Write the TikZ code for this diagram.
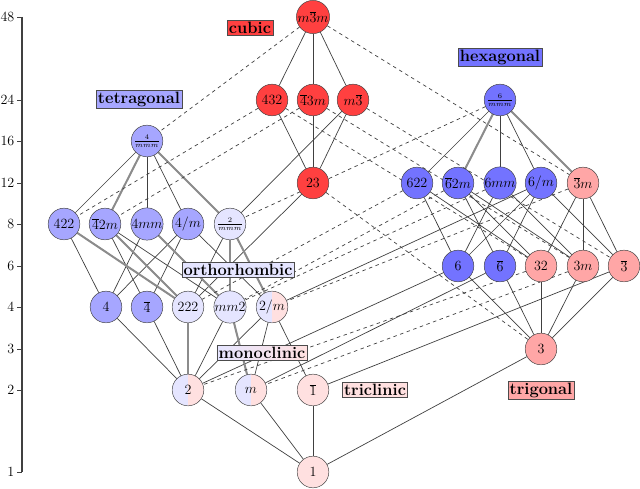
\documentclass[tikz,border=0pt]{standalone}
\usepackage{amsmath}
\usepackage{tikz}
\usepackage{xcolor}
\usetikzlibrary{backgrounds}
\begin{document}
\begin{tikzpicture}[x=0.03cm,y=-0.03cm]
     \tikzstyle{vertex}=[circle,draw=black!75,minimum size=27pt,inner sep=0pt,font=\fontsize{13}{15}\selectfont]
     \tikzstyle{cub}=[vertex,fill=red!75]
     \tikzstyle{tet}=[vertex,fill=blue!35]
     \tikzstyle{hex}=[vertex,fill=blue!55]
     \tikzstyle{ort}=[vertex,fill=blue!10]
     \tikzstyle{tri}=[vertex,fill=red!12]
     \tikzstyle{trg}=[vertex,fill=red!35]
     \tikzstyle{half}=[vertex,fill=blue!10,path picture={\fill[red!12] (path picture bounding box.north) rectangle (path picture bounding box.south east);}]
     \tikzstyle{sys}=[draw=black!70,font=\fontsize{14}{16}\selectfont\bfseries,inner sep=1.5pt]
     \tikzstyle{edge}=[draw,black!75,semithick]
     \tikzstyle{dsh}=[edge,dashed]
     \tikzstyle{dbl}=[draw,black!45,double=black!45,double distance=0.9pt,thin]
     \useasboundingbox (0,0) rectangle (640,489);

     % order axis
     \draw[black!75,line width=1.4pt] (22,17) -- (22,472);
     \foreach \n/\y in {48/17,24/100,16/141,12/183,8/224,6/266,4/307,3/349,2/390,1/472}
       \draw[black!75] (17,\y) -- (22,\y) node[left=3pt,black,font=\fontsize{12}{14}\selectfont] {\n};

     % cubic
     \node[cub] (m3m) at (313,17) {$m\overline{3}m$};
     \node[cub] (p432) at (272,100) {$432$};
     \node[cub] (b43m) at (313,100) {$\overline{4}3m$};
     \node[cub] (m3) at (353,100) {$m\overline{3}$};
     \node[cub] (p23) at (313,183) {$23$};
     % tetragonal
     \node[tet] (p4mmm) at (147,141) {\footnotesize$\frac{4}{mmm}$};
     \node[tet] (p422) at (64,224) {$422$};
     \node[tet] (b42m) at (105,224) {$\overline{4}2m$};
     \node[tet] (p4mm) at (147,224) {$4mm$};
     \node[tet] (p4m) at (188,224) {$4/m$};
     \node[tet] (p4) at (106,307) {$4$};
     \node[tet] (b4) at (147,307) {$\overline{4}$};
     % orthorhombic
     \node[ort] (pmmm) at (230,224) {\footnotesize$\frac{2}{mmm}$};
     \node[ort] (p222) at (188,307) {$222$};
     \node[ort] (mm2) at (230,307) {$mm2$};
     % monoclinic
     \node[half] (p2m) at (272,307) {$2/m$};
     \node[half] (p2) at (188,390) {$2$};
     \node[half] (pm) at (251,390) {$m$};
     % triclinic
     \node[tri] (b1) at (313,390) {$\overline{1}$};
     \node[tri] (p1) at (313,472) {$1$};
     % hexagonal
     \node[hex] (p6mmm) at (500,100) {\footnotesize$\frac{6}{mmm}$};
     \node[hex] (p622) at (417,183) {$622$};
     \node[hex] (b62m) at (458,183) {$\overline{6}2m$};
     \node[hex] (p6mm) at (500,183) {$6mm$};
     \node[hex] (p6m) at (541,183) {$6/m$};
     \node[hex] (p6) at (458,266) {$6$};
     \node[hex] (b6) at (500,266) {$\overline{6}$};
     % trigonal
     \node[trg] (b3m) at (583,183) {$\overline{3}m$};
     \node[trg] (p32) at (541,266) {$32$};
     \node[trg] (p3m) at (583,266) {$3m$};
     \node[trg] (b3) at (624,266) {$\overline{3}$};
     \node[trg] (p3) at (541,349) {$3$};

     % system labels
     \node[sys,fill=red!75] (lcub) at (250,28) {cubic};
     \node[sys,fill=blue!35] (ltet) at (139,99) {tetragonal};
     \node[sys,fill=blue!55] (lhex) at (500,57) {hexagonal};
     \node[sys,fill=blue!10] (lort) at (238,270) {orthorhombic};
     \node[sys,left color=blue!10,right color=red!12] (lmon) at (262,353) {monoclinic};
     \node[sys,fill=red!12] (ltri) at (375,390) {triclinic};
     \node[sys,fill=red!35] (ltrg) at (541,390) {trigonal};

     \begin{scope}[on background layer]
     % solid edges
     \foreach \a/\b in {m3m/p432,m3m/b43m,m3m/m3,p432/p23,b43m/p23,m3/p23,m3/pmmm,p23/p222,
       p4mmm/p422,p4mmm/p4mm,p4mmm/p4m,p422/p4,b42m/b4,b42m/mm2,p4mm/p4,p4m/p4,p4m/b4,p4m/p2m,
       pmmm/p222,p2m/p2,p2m/pm,p2m/b1,p4/p2,b4/p2,p2/p1,pm/p1,b1/p1,p3/p1,
       p6mmm/p622,p6mmm/p6mm,p6mmm/p6m,p622/p6,p622/p32,b62m/b6,b62m/p32,b62m/p3m,p6mm/p6,p6mm/p3m,
       p6m/p6,p6m/b6,p6m/b3,b3m/p32,b3m/p3m,b3m/b3,p6/p3,b6/p3,p32/p3,p3m/p3,b3/p3,
       p6/p2,b6/pm,b3/b1,p6m/p2m,mm2/p2}
       \draw[edge] (\a) -- (\b);
     % double edges
     \foreach \a/\b in {p4mmm/b42m,p4mmm/pmmm,p422/p222,b42m/p222,p4mm/mm2,pmmm/mm2,pmmm/p2m,
       p222/p2,mm2/pm,p6mmm/b62m,p6mmm/b3m}
       \draw[dbl] (\a) -- (\b);
     % dashed edges
     \foreach \a/\b in {m3m/p4mmm,m3m/b3m,p432/p422,p432/p32,b43m/b42m,b43m/p3m,m3/b3,p23/p3,
       p6mmm/pmmm,p622/p222,b62m/mm2,p6mm/mm2,b3m/p2m,p32/p2,p3m/pm}
       \draw[dsh] (\a) -- (\b);
     \end{scope}
\end{tikzpicture}
\end{document}
